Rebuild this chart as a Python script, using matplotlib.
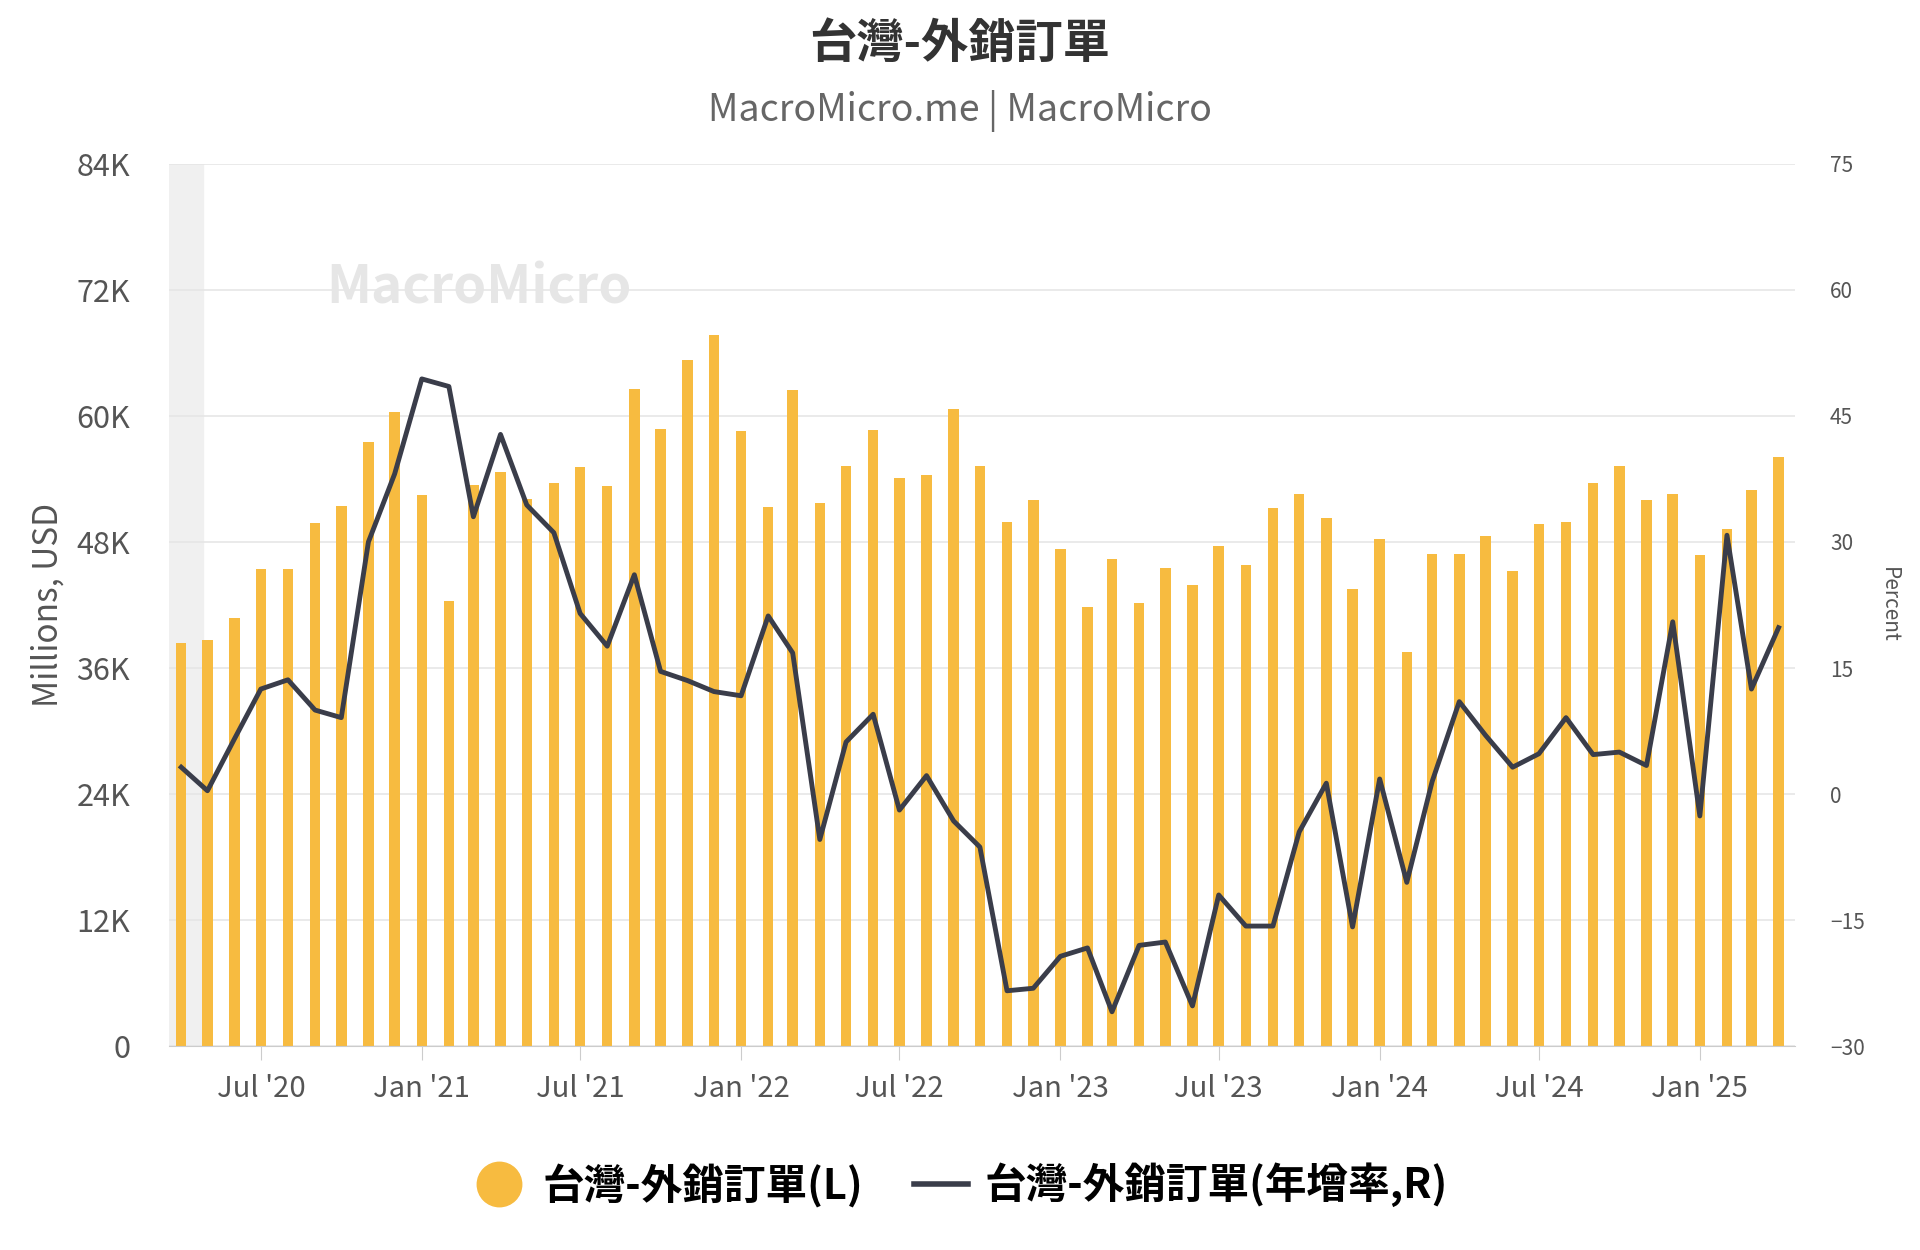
import matplotlib
matplotlib.use("Agg")
import matplotlib.pyplot as plt
from matplotlib import font_manager as fm
import pandas as pd
from matplotlib.lines import Line2D

cjk = [f.name for f in fm.fontManager.ttflist if "CJK" in f.name]
pref = [n for n in ["Noto Sans CJK TC", "Noto Sans CJK SC", "Noto Sans CJK JP"] if n in cjk] or cjk[:1]
plt.rcParams["font.family"] = "sans-serif"
plt.rcParams["font.sans-serif"] = pref + ["DejaVu Sans"]

dates = pd.date_range("2020-04-01", "2025-04-01", freq="MS")
orders = [38.4, 38.7, 40.8, 45.4, 45.4, 49.8, 51.4, 57.5, 60.4, 52.5, 42.4, 53.4,
          54.7, 52.1, 53.6, 55.1, 53.3, 62.6, 58.8, 65.3, 67.7, 58.6, 51.3, 62.5,
          51.7, 55.2, 58.7, 54.1, 54.4, 60.7, 55.2, 49.9, 52.0, 47.3, 41.8, 46.4,
          42.2, 45.5, 43.9, 47.6, 45.8, 51.2, 52.6, 50.3, 43.5, 48.3, 37.5, 46.9,
          46.9, 48.6, 45.2, 49.7, 49.9, 53.6, 55.2, 52.0, 52.6, 46.8, 49.2, 52.9, 56.1]
yoy = [3.2, 0.4, 6.6, 12.5, 13.6, 10.0, 9.1, 30.0, 38.1, 49.4, 48.5, 33.0,
       42.8, 34.4, 31.1, 21.5, 17.6, 26.1, 14.6, 13.5, 12.2, 11.7, 21.2, 16.8,
       -5.4, 6.2, 9.5, -1.9, 2.2, -3.2, -6.3, -23.4, -23.1, -19.3, -18.3, -25.9,
       -18.0, -17.6, -25.2, -12.0, -15.7, -15.7, -4.5, 1.3, -15.8, 1.8, -10.5, 1.5,
       11.0, 7.0, 3.2, 4.8, 9.1, 4.7, 5.0, 3.4, 20.5, -2.6, 30.8, 12.5, 19.8]
orders_m = [v * 1000 for v in orders]

fig = plt.figure(figsize=(19.2, 12.5), dpi=100)
ax = fig.add_axes([0.088, 0.163, 0.847, 0.706])
ax2 = ax.twinx()

xmin = pd.Timestamp("2020-03-18")
xmax = pd.Timestamp("2025-04-20")
ax.axvspan(pd.Timestamp("2020-03-18"), pd.Timestamp("2020-04-26"), color="#f0f0f0", zorder=0)
ax.bar(dates, orders_m, width=12, color="#f7bb40", zorder=2)
ax2.plot(dates, yoy, color="#3a3d4a", lw=3.5, zorder=3)

ax.set_xlim(xmin, xmax)
ax.set_ylim(0, 84000)
ax2.set_ylim(-30, 75)
ax.set_yticks(range(0, 84001, 12000))
ax.set_yticklabels(["0"] + [f"{v}K" for v in range(12, 85, 12)])
ax2.set_yticks(range(-30, 76, 15))
ax.grid(axis="y", color="#e6e6e6", lw=1.2, zorder=0)
ax.set_axisbelow(True)

xt = pd.to_datetime(["2020-07-01", "2021-01-01", "2021-07-01", "2022-01-01", "2022-07-01",
                     "2023-01-01", "2023-07-01", "2024-01-01", "2024-07-01", "2025-01-01"])
xl = ["Jul '20", "Jan '21", "Jul '21", "Jan '22", "Jul '22", "Jan '23", "Jul '23", "Jan '24", "Jul '24", "Jan '25"]
ax.set_xticks(xt)
ax.set_xticklabels(xl)
for a in (ax, ax2):
    for s in a.spines.values():
        s.set_visible(False)
ax.spines["bottom"].set_visible(True)
ax.spines["bottom"].set_color("#cccccc")
ax.tick_params(axis="x", colors="#cccccc", labelcolor="#555555", labelsize=21, length=10, pad=10)
ax.tick_params(axis="y", length=0, labelsize=22, labelcolor="#555555", pad=28)
ax2.tick_params(axis="y", length=0, labelsize=15, labelcolor="#555555", pad=25)
ax.set_ylabel("Millions, USD", fontsize=24, color="#555555", labelpad=8)
ax2.set_ylabel("Percent", fontsize=15, color="#555555", rotation=270, labelpad=25)

fig.text(0.5, 0.965, "台灣-外銷訂單", ha="center", va="center", fontsize=34, fontweight="bold", color="#333333")
fig.text(0.5, 0.911, "MacroMicro.me | MacroMicro", ha="center", va="center", fontsize=27, color="#666666")
fig.text(0.17, 0.757, "MacroMicro", fontsize=38, fontweight="bold", color="#e6e6e6", zorder=1)

handles = [Line2D([], [], marker="o", ls="none", color="#f7bb40", markersize=32),
           Line2D([], [], color="#3a3d4a", lw=4)]
fig.legend(handles, ["台灣-外銷訂單(L)", "台灣-外銷訂單(年增率,R)"], loc="center",
           bbox_to_anchor=(0.5, 0.052), ncol=2, frameon=False,
           handlelength=1.3, columnspacing=1.2, handletextpad=0.4,
           prop={"weight": "bold", "size": 30})
fig.savefig("out.png")
